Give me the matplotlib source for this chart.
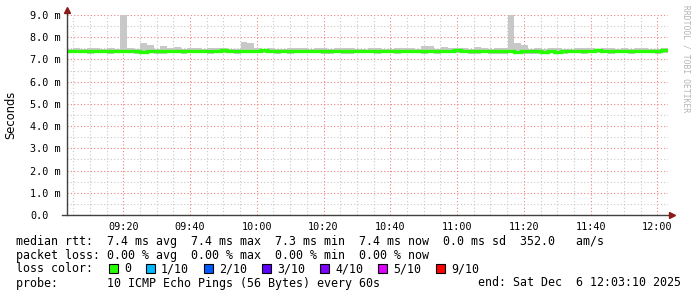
import numpy as np
import pandas as pd
import matplotlib
matplotlib.use("Agg")
import matplotlib.pyplot as plt
import matplotlib.dates as mdates
from matplotlib.patches import Rectangle

# smokeping data, 2 minute steps, values in ms
START = "2025-12-06 09:03:10"
median_ms = [
    7.38, 7.38, 7.40, 7.40, 7.38, 7.37, 7.38, 7.37, 7.36, 7.38,
    7.38, 7.35, 7.38, 7.37, 7.36, 7.38, 7.38, 7.38, 7.37, 7.39,
    7.38, 7.36, 7.38, 7.41, 7.40, 7.38, 7.38, 7.39, 7.40, 7.41,
    7.40, 7.37, 7.38, 7.36, 7.38, 7.38, 7.38, 7.39, 7.38, 7.36,
    7.38, 7.38, 7.37, 7.39, 7.40, 7.38, 7.37, 7.38, 7.38, 7.37,
    7.39, 7.38, 7.38, 7.38, 7.40, 7.36, 7.38, 7.40, 7.41, 7.39,
    7.38, 7.38, 7.39, 7.38, 7.36, 7.37, 7.38, 7.35, 7.37, 7.36,
    7.36, 7.35, 7.36, 7.35, 7.37, 7.38, 7.38, 7.39, 7.40, 7.41,
    7.40, 7.38, 7.38, 7.39, 7.38, 7.40, 7.38, 7.40, 7.39, 7.41,
]
smoke_hi = [
    7.49, 7.51, 7.48, 7.50, 7.52, 7.48, 7.50, 7.49, 9.50, 7.51,
    7.48, 7.72, 7.64, 7.49, 7.62, 7.51, 7.57, 7.49, 7.51, 7.50,
    7.48, 7.51, 7.50, 7.53, 7.49, 7.48, 7.77, 7.72, 7.51, 7.49,
    7.51, 7.49, 7.48, 7.50, 7.51, 7.52, 7.49, 7.51, 7.50, 7.48,
    7.50, 7.51, 7.52, 7.49, 7.48, 7.50, 7.51, 7.49, 7.48, 7.50,
    7.50, 7.51, 7.49, 7.62, 7.60, 7.49, 7.58, 7.51, 7.50, 7.51,
    7.48, 7.58, 7.53, 7.49, 7.51, 7.50, 9.50, 7.72, 7.64, 7.49,
    7.51, 7.48, 7.50, 7.51, 7.49, 7.48, 7.50, 7.53, 7.51, 7.49,
    7.52, 7.51, 7.49, 7.51, 7.48, 7.50, 7.51, 7.49, 7.48, 7.50,
]
smoke_lo = [
    7.29, 7.27, 7.29, 7.25, 7.27, 7.28, 7.25, 7.28, 7.29, 7.27,
    7.25, 7.27, 7.28, 7.26, 7.24, 7.28, 7.27, 7.25, 7.28, 7.27,
    7.28, 7.25, 7.27, 7.29, 7.28, 7.26, 7.28, 7.29, 7.27, 7.28,
    7.29, 7.26, 7.28, 7.25, 7.28, 7.27, 7.28, 7.29, 7.26, 7.25,
    7.28, 7.26, 7.25, 7.28, 7.29, 7.27, 7.25, 7.28, 7.27, 7.25,
    7.28, 7.27, 7.28, 7.26, 7.29, 7.24, 7.27, 7.28, 7.29, 7.28,
    7.26, 7.25, 7.28, 7.26, 7.25, 7.25, 7.27, 7.24, 7.25, 7.25,
    7.24, 7.25, 7.27, 7.24, 7.25, 7.27, 7.28, 7.26, 7.28, 7.29,
    7.28, 7.26, 7.28, 7.27, 7.25, 7.28, 7.27, 7.28, 7.26, 7.28,
]
y_ticks = [0, 1, 2, 3, 4, 5, 6, 7, 8, 9]
y_labels = ["0.0", "1.0 m", "2.0 m", "3.0 m", "4.0 m", "5.0 m",
            "6.0 m", "7.0 m", "8.0 m", "9.0 m"]

loss_labels = ["0", "1/10", "2/10", "3/10", "4/10", "5/10", "9/10"]
loss_colors = ["#26ff00", "#00b8ff", "#0059ff", "#5e00ff", "#7e00ff", "#dd00ff", "#ff0000"]
loss_box_x = [109, 146, 204, 262, 320, 378, 436]

stats_line = "median rtt:  7.4 ms avg  7.4 ms max  7.3 ms min  7.4 ms now  0.0 ms sd  352.0   am/s"
loss_line = "packet loss: 0.00 % avg  0.00 % max  0.00 % min  0.00 % now"
probe_line = "probe:       10 ICMP Echo Pings (56 Bytes) every 60s"
end_line = "end: Sat Dec  6 12:03:10 2025"

W, H = 697, 297
MONO = "DejaVu Sans Mono"


def fx(px):
    return px / W


def fy(py):
    return 1 - py / H


def main():
    fig = plt.figure(figsize=(W / 100, H / 100), dpi=100)
    ax = fig.add_axes([fx(67), fy(215), fx(668) - fx(67), fy(15) - fy(215)])

    times = pd.date_range(START, periods=len(median_ms), freq="2min")
    x = mdates.date2num(times.to_pydatetime())
    step = 2 / 1440
    edges = np.append(x, x[-1] + step)

    hi = np.array(smoke_hi)
    lo = np.array(smoke_lo)
    med = np.array(median_ms)

    # smoke band and median line
    ax.bar(x, hi - lo, bottom=lo, width=step, align="edge",
           color="#c8c8c8", linewidth=0, zorder=2)
    ax.stairs(med, edges, color=loss_colors[0], linewidth=2.4,
              baseline=None, zorder=3)

    ax.set_xlim(edges[0], edges[-1])
    ax.set_ylim(0, 9)

    # grid
    ax.xaxis.set_major_locator(mdates.MinuteLocator(byminute=[0, 20, 40]))
    ax.xaxis.set_minor_locator(mdates.MinuteLocator(byminute=range(0, 60, 5)))
    ax.xaxis.set_major_formatter(mdates.DateFormatter("%H:%M"))
    ax.set_yticks(y_ticks)
    ax.set_yticklabels(y_labels)
    ax.set_yticks(np.arange(0.5, 9, 1), minor=True)
    ax.grid(which="minor", color="#c8c8c8", linestyle=(0, (1, 2)), linewidth=0.8, zorder=1)
    ax.grid(which="major", color="#f08080", linestyle=(0, (1, 2)), linewidth=0.8, zorder=1)
    ax.set_axisbelow(True)

    for s in ["top", "right", "left", "bottom"]:
        ax.spines[s].set_visible(False)
    axis_col = "#404040"
    ax.plot([0, 0], [0, 1.02], transform=ax.transAxes, color=axis_col,
            lw=1, clip_on=False, zorder=4)
    ax.plot([-0.008, 1.004], [0, 0], transform=ax.transAxes, color=axis_col,
            lw=1, clip_on=False, zorder=4)
    ax.plot([0], [1.025], transform=ax.transAxes, marker="^", ms=4,
            color="#8b1a1a", clip_on=False, zorder=5)
    ax.plot([1.006], [0], transform=ax.transAxes, marker=">", ms=4,
            color="#8b1a1a", clip_on=False, zorder=5)

    ax.tick_params(axis="x", which="both", length=0, pad=5, labelsize=7.3)
    ax.tick_params(axis="y", which="both", length=0, pad=26.6, labelsize=7.3)
    for lab in ax.get_yticklabels():
        lab.set_horizontalalignment("left")
    for lab in ax.get_xticklabels() + ax.get_yticklabels():
        lab.set_fontfamily(MONO)

    fig.text(fx(11), fy(115), "Seconds", rotation=90, ha="center", va="center",
             fontsize=8.3, family="DejaVu Sans")
    fig.text(fx(686), fy(5), "RRDTOOL / TOBI OETIKER", rotation=270,
             ha="center", va="top", fontsize=5.8, family=MONO, color="#b4b4b4")

    # legend block
    fs = 8.4
    fig.text(fx(16), fy(242), stats_line, ha="left", va="center", fontsize=fs, family=MONO)
    fig.text(fx(16), fy(255), loss_line, ha="left", va="center", fontsize=fs, family=MONO)
    fig.text(fx(16), fy(269), "loss color:", ha="left", va="center", fontsize=fs, family=MONO)
    for bx, col, lab in zip(loss_box_x, loss_colors, loss_labels):
        fig.patches.append(Rectangle((fx(bx), fy(273)), fx(9), 9 / H,
                                     transform=fig.transFigure, facecolor=col,
                                     edgecolor="black", linewidth=0.8))
        fig.text(fx(bx + 15), fy(269), lab, ha="left", va="center", fontsize=fs, family=MONO)
    fig.text(fx(16), fy(283), probe_line, ha="left", va="center", fontsize=fs, family=MONO)
    fig.text(fx(681), fy(283), end_line, ha="right", va="center", fontsize=fs, family=MONO)

    fig.savefig("out.png", dpi=100)


if __name__ == "__main__":
    main()
